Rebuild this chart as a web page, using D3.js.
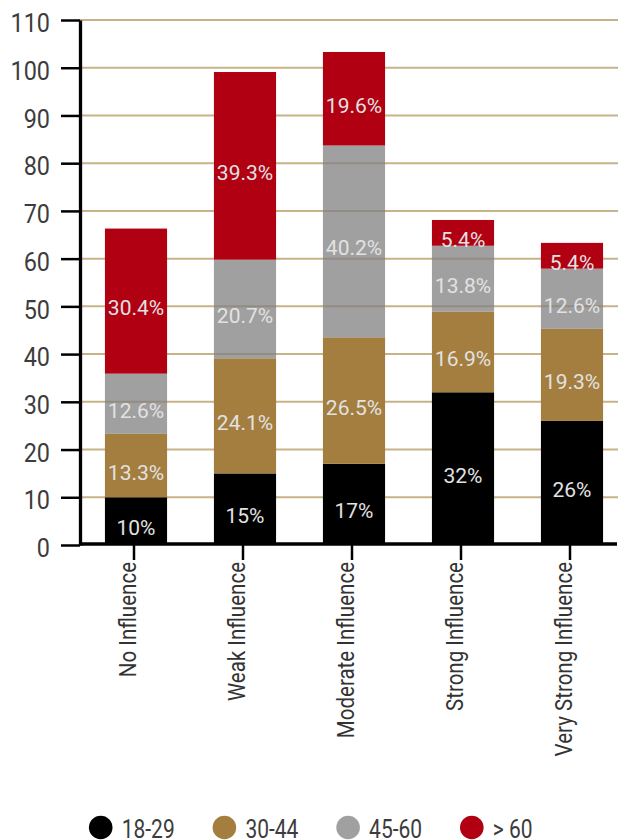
<!DOCTYPE html>
<html>
<head>
<meta charset="utf-8">
<script src="https://cdn.jsdelivr.net/npm/d3@7/dist/d3.min.js"></script>
<style>
  html, body { margin: 0; padding: 0; background: #fff; }
  svg { display: block; }
</style>
</head>
<body>
<svg id="chart" width="618" height="840"></svg>
<script>
// Influence level by age group (stacked, percent)
const categories = ["No Influence", "Weak Influence", "Moderate Influence", "Strong Influence", "Very Strong Influence"];
const ageGroups = ["18-29", "30-44", "45-60", "> 60"];
const age18to29 = [10, 15, 17, 32, 26];
const age30to44 = [13.3, 24.1, 26.5, 16.9, 19.3];
const age45to60 = [12.6, 20.7, 40.2, 13.8, 12.6];
const age60plus = [30.4, 39.3, 19.6, 5.4, 5.4];
const yTicks = [0, 10, 20, 30, 40, 50, 60, 70, 80, 90, 100, 110];

const seriesValues = [age18to29, age30to44, age45to60, age60plus];
const colors = ["#000000", "#a47e3f", "#808080", "#b00012"];
const opacities = [1, 1, 0.75, 1];

const rows = categories.map((c, i) => {
  const r = { category: c };
  ageGroups.forEach((g, k) => { r[g] = seriesValues[k][i]; });
  return r;
});

const svg = d3.select("#chart");
const FONT = "Roboto, 'Noto Sans', sans-serif";

const x = d3.scaleBand()
  .domain(categories)
  .range([81.5, 626.5])
  .paddingInner(0.43)
  .paddingOuter(0.215);

const y = d3.scaleLinear().domain([0, 110]).range([545, 20]);

// gridlines
svg.append("g")
  .selectAll("line")
  .data(yTicks.filter(t => t > 0))
  .join("line")
  .attr("x1", 80).attr("x2", 618)
  .attr("y1", d => y(d)).attr("y2", d => y(d))
  .attr("stroke", "#c8b287")
  .attr("stroke-width", 2);

// stacked bars
const stacked = d3.stack().keys(ageGroups)(rows);

const layers = svg.append("g")
  .selectAll("g")
  .data(stacked)
  .join("g")
  .attr("fill", (d, i) => colors[i])
  .attr("fill-opacity", (d, i) => opacities[i]);

layers.selectAll("rect")
  .data(d => d)
  .join("rect")
  .attr("x", d => x(d.data.category))
  .attr("width", x.bandwidth())
  .attr("y", d => y(d[1]))
  .attr("height", d => y(d[0]) - y(d[1]));

// value labels
const labelLayers = svg.append("g")
  .selectAll("g")
  .data(stacked)
  .join("g");

labelLayers.selectAll("text")
  .data(d => d.map(p => ({ p, key: d.key })))
  .join("text")
  .attr("x", d => x(d.p.data.category) + x.bandwidth() / 2)
  .attr("y", d => (y(d.p[0]) + y(d.p[1])) / 2 + 14)
  .attr("text-anchor", "middle")
  .attr("font-family", FONT)
  .attr("font-size", 21)
  .attr("fill", "#e2e2e2")
  .text(d => d.p.data[d.key] + "%");

// y axis
const ySx = 0.9;
const gy = svg.append("g")
  .attr("transform", "translate(80,0)")
  .call(d3.axisLeft(y).tickValues(yTicks).tickSize(19).tickSizeOuter(0));
gy.attr("font-family", FONT).attr("font-size", 26);
gy.select(".domain").attr("stroke", "#000").attr("stroke-width", 3.3);
gy.selectAll(".tick line").attr("stroke", "#000").attr("stroke-width", 2.5);
gy.selectAll(".tick text")
  .attr("fill", "#3c3c3c")
  .attr("x", -30 / ySx)
  .attr("dy", "0.45em")
  .attr("transform", `scale(${ySx},1)`);

// x axis
const xSx = 0.874;
const gx = svg.append("g")
  .attr("transform", "translate(0,544)")
  .call(d3.axisBottom(x).tickSize(16).tickSizeOuter(0));
gx.select(".domain").remove();
gx.attr("font-family", FONT).attr("font-size", 23.5);
gx.selectAll(".tick line")
  .attr("stroke", "#000").attr("stroke-width", 2.5)
  .attr("x1", -2).attr("x2", -2);
gx.selectAll(".tick text")
  .attr("fill", "#333")
  .attr("text-anchor", "end")
  .attr("x", -18 / xSx)
  .attr("y", 0)
  .attr("dy", 0)
  .attr("transform", `rotate(-90) scale(${xSx},1)`);
gx.append("line")
  .attr("x1", 80).attr("x2", 617)
  .attr("y1", 0).attr("y2", 0)
  .attr("stroke", "#000").attr("stroke-width", 3.5);

// legend
const lSx = 0.84;
const legend = svg.append("g").attr("transform", "translate(0,827.5)");
const items = legend.selectAll("g")
  .data(ageGroups)
  .join("g")
  .attr("transform", (d, i) => `translate(${100.7 + i * 123.7},0)`);
items.append("circle")
  .attr("r", 11.8)
  .attr("fill", (d, i) => colors[i])
  .attr("fill-opacity", (d, i) => opacities[i]);
items.append("text")
  .attr("transform", `translate(21,10.2) scale(${lSx},1)`)
  .attr("font-family", FONT)
  .attr("font-size", 25)
  .attr("fill", "#3c3c3c")
  .text(d => d);
</script>
</body>
</html>
